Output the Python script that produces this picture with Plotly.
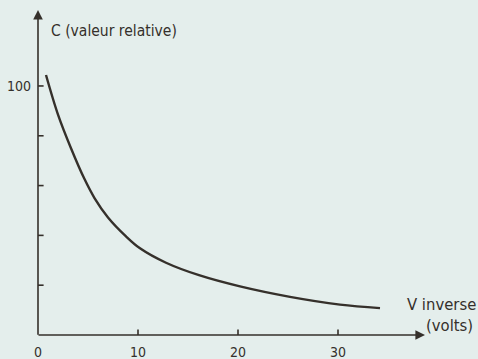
import plotly.graph_objects as go

# courbe C = f(V inverse)
v_volts = [0.8, 2.0, 3.3, 4.65, 5.65, 7.0, 8.8, 10.2, 12.8, 16.1, 20.2, 25.2, 30.2, 34.2]
c_rel = [104.4, 88.5, 75.0, 62.6, 55.0, 47.2, 39.6, 34.8, 29.0, 24.0, 19.5, 15.3, 12.2, 10.8]

x_ticks = [0, 10, 20, 30]
x_labels = ["0", "10", "20", "30"]
y_ticks = [20, 40, 60, 80, 100]
y_labels = ["", "", "", "", "100"]

ink = "#35302b"
bg = "#e4eeec"
family = "DejaVu Sans Condensed, DejaVu Sans"
font = dict(family=family, size=15.5, color=ink)
font_v = dict(family=family, size=16.5, color=ink)
tick_font = dict(family=family, size=14, color=ink)

fig = go.Figure()
fig.add_trace(go.Scatter(x=v_volts, y=c_rel, mode="lines", line_shape="spline",
                         line=dict(color=ink, width=2.4, smoothing=1.0),
                         showlegend=False, hoverinfo="skip"))
# petits traits de graduation qui traversent les axes
fig.add_trace(go.Scatter(x=[0] * len(y_ticks), y=y_ticks, mode="markers",
                         marker=dict(symbol="line-ew", size=8,
                                     line=dict(color=ink, width=1.6)),
                         showlegend=False, hoverinfo="skip"))
fig.add_trace(go.Scatter(x=x_ticks[1:], y=[0] * (len(x_ticks) - 1), mode="markers",
                         marker=dict(symbol="line-ns", size=8,
                                     line=dict(color=ink, width=1.6)),
                         showlegend=False, hoverinfo="skip"))

# axes avec flèches
fig.add_annotation(x=38.7, y=0, ax=-0.1, ay=0, xref="x", yref="y",
                   axref="x", ayref="y", text="", showarrow=True,
                   arrowhead=2, arrowsize=1.2, arrowwidth=1.6, arrowcolor=ink)
fig.add_annotation(x=0, y=130.5, ax=0, ay=-0.5, xref="x", yref="y",
                   axref="x", ayref="y", text="", showarrow=True,
                   arrowhead=2, arrowsize=1.2, arrowwidth=1.6, arrowcolor=ink)

fig.add_annotation(x=1.05, y=122, xref="x", yref="y", text="C (valeur relative)",
                   showarrow=False, xanchor="left", yanchor="middle", font=font)
fig.add_annotation(x=1.1, y=12.4, xref="paper", yref="y", text="V inverse",
                   showarrow=False, xanchor="right", yanchor="middle", font=font_v)
fig.add_annotation(x=1.093, y=4.0, xref="paper", yref="y", text="(volts)",
                   showarrow=False, xanchor="right", yanchor="middle", font=font_v)

fig.update_xaxes(range=[0, 40], showline=False, showgrid=False, zeroline=False,
                 tickvals=x_ticks, ticktext=x_labels, ticks="", ticklabelstandoff=7,
                 tickfont=tick_font, automargin=False)
fig.update_yaxes(range=[0, 130.5], showline=False, showgrid=False, zeroline=False,
                 tickvals=y_ticks, ticktext=y_labels, ticks="", ticklabelstandoff=6,
                 tickfont=tick_font, automargin=False)

fig.update_layout(width=478, height=359, paper_bgcolor=bg, plot_bgcolor=bg,
                  margin=dict(l=38, r=40, t=10, b=24), showlegend=False)

fig.write_html("out.html", config={"displayModeBar": False},
               post_script="document.body.style.margin='0';")
